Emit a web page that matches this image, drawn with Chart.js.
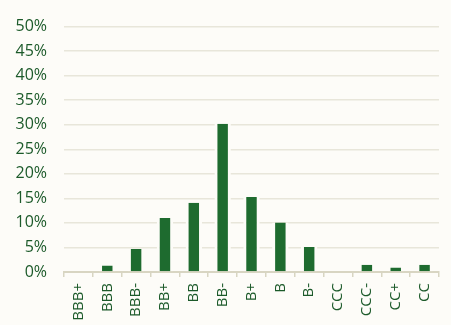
<!DOCTYPE html>
<html>
<head>
<meta charset="utf-8">
<script src="https://cdn.jsdelivr.net/npm/chart.js@4/dist/chart.umd.min.js"></script>
<style>
    html, body { margin: 0; padding: 0; background: #FDFCF8; }
    #wrap { width: 451px; height: 325px; position: relative; }
</style>
</head>
<body>
<div id="wrap"><canvas id="ratingChart"></canvas></div>
<script>
// 评级分布
const ratings = ['BBB+', 'BBB', 'BBB-', 'BB+', 'BB', 'BB-', 'B+', 'B', 'B-', 'CCC', 'CCC-', 'CC+', 'CC'];
const shares = [0, 1.3, 4.7, 11.0, 14.1, 30.2, 15.3, 10.1, 5.1, 0, 1.5, 0.9, 1.5];
const yTicks = [0, 5, 10, 15, 20, 25, 30, 35, 40, 45, 50];

const BG = '#FDFCF8';
const GREEN = '#1E6B2F';
const TEXT = '#1C5A2A';
const GRID = '#E8E6DA';
const AXIS = '#D8D5C2';

const ctx = document.getElementById('ratingChart');

new Chart(ctx, {
    type: 'bar',
    data: {
        labels: ratings,
        datasets: [{
            data: shares,
            backgroundColor: GREEN,
            borderColor: BG,
            borderWidth: { left: 3, right: 3, top: 0, bottom: 0 },
            borderSkipped: false,
            barPercentage: 0.57,
            categoryPercentage: 1
        }]
    },
    options: {
        responsive: true,
        maintainAspectRatio: false,
        animation: false,
        layout: {
            padding: { top: 14, right: 12, left: 0, bottom: 0 }
        },
        plugins: {
            legend: { display: false },
            tooltip: { enabled: false }
        },
        scales: {
            x: {
                grid: {
                    offset: true,
                    drawOnChartArea: false,
                    drawTicks: true,
                    tickLength: 5,
                    color: AXIS,
                    lineWidth: 1.5
                },
                border: { display: true, color: AXIS, width: 2 },
                ticks: {
                    color: TEXT,
                    font: { family: 'Open Sans', size: 15 },
                    minRotation: 90,
                    maxRotation: 90,
                    padding: 6,
                    autoSkip: false
                },
                afterFit: function(scale) {
                    scale.height = 53;
                }
            },
            y: {
                min: 0,
                max: 50,
                afterBuildTicks: function(scale) {
                    scale.ticks = yTicks.map(v => ({ value: v }));
                },
                grid: {
                    color: GRID,
                    lineWidth: 1.5,
                    drawTicks: false
                },
                border: { display: false },
                ticks: {
                    color: TEXT,
                    font: { family: 'Open Sans', size: 16 },
                    padding: 17,
                    callback: function(value) {
                        return value + '%';
                    }
                },
                afterFit: function(scale) {
                    scale.width = 64;
                }
            }
        }
    }
});
</script>
</body>
</html>
